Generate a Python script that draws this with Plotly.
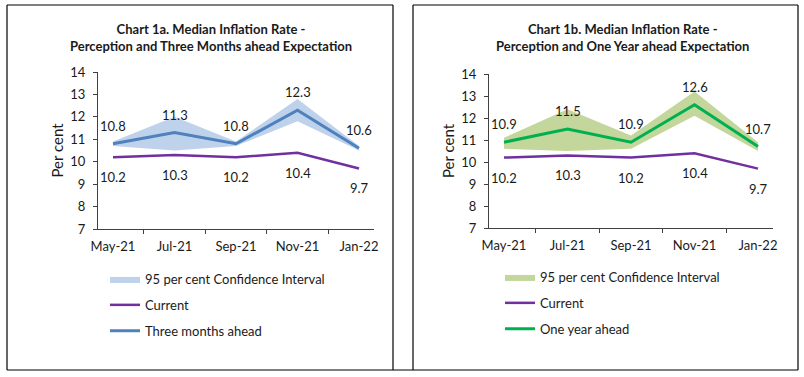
import plotly.graph_objects as go

months = ["May-21", "Jul-21", "Sep-21", "Nov-21", "Jan-22"]

current = [10.2, 10.3, 10.2, 10.4, 9.7]

three_month = [10.8, 11.3, 10.8, 12.3, 10.6]
three_upper = [10.9, 12.0, 10.9, 12.8, 10.7]
three_lower = [10.7, 10.5, 10.7, 11.8, 10.5]

one_year = [10.9, 11.5, 10.9, 12.6, 10.7]
one_upper = [11.1, 12.4, 11.2, 13.2, 10.9]
one_lower = [10.6, 10.5, 10.6, 12.1, 10.5]

titles = ["<b>Chart 1a. Median Inflation Rate -<br>Perception and Three Months ahead Expectation</b>",
          "<b>Chart 1b. Median Inflation Rate -<br>Perception and One Year ahead Expectation</b>"]

FONT = "Lato"
TXT = "#1a1a1a"
AX = "#404040"

fig = go.Figure()

panels = [
    dict(exp=three_month, up=three_upper, lo=three_lower, name="Three months ahead",
         band="#bfd2ec", line="#4f81bd", xa="x", ya="y", leg="legend"),
    dict(exp=one_year, up=one_upper, lo=one_lower, name="One year ahead",
         band="#c3d69b", line="#00b050", xa="x2", ya="y2", leg="legend2"),
]

for p in panels:
    fig.add_trace(go.Scatter(
        x=months + months[::-1], y=p["up"] + p["lo"][::-1],
        fill="toself", fillcolor=p["band"], line=dict(width=0, color=p["band"]),
        mode="lines", name="95 per cent Confidence Interval",
        xaxis=p["xa"], yaxis=p["ya"], legend=p["leg"], legendgroup=p["leg"] + "a",
        hoverinfo="skip"))
    fig.add_trace(go.Scatter(
        x=months, y=current, mode="lines", name="Current",
        line=dict(color="#7030a0", width=2.5),
        xaxis=p["xa"], yaxis=p["ya"], legend=p["leg"], legendgroup=p["leg"] + "b"))
    fig.add_trace(go.Scatter(
        x=months, y=p["exp"], mode="lines", name=p["name"],
        line=dict(color=p["line"], width=3),
        xaxis=p["xa"], yaxis=p["ya"], legend=p["leg"], legendgroup=p["leg"] + "c"))
    for m, v in zip(months, p["exp"]):
        fig.add_annotation(x=m, y=v, text=f"{v:.1f}", xref=p["xa"], yref=p["ya"],
                           showarrow=False, yshift=18, font=dict(family=FONT, size=13, color=TXT))
    for m, v in zip(months, current):
        fig.add_annotation(x=m, y=v, text=f"{v:.1f}", xref=p["xa"], yref=p["ya"],
                           showarrow=False, yshift=-20, font=dict(family=FONT, size=13, color=TXT))

W, H = 804, 377
def px(x): return x / W
def py(y): return 1 - y / H

axis_common = dict(
    showgrid=False, zeroline=False, showline=True, linecolor=AX, linewidth=1,
    ticks="outside", ticklen=4, tickcolor=AX,
    tickfont=dict(family=FONT, size=13, color=TXT),
)
ytitle = dict(text="Per cent", font=dict(family=FONT, size=15, color=TXT), standoff=3)

fig.update_layout(
    width=W, height=H, margin=dict(l=0, r=0, t=0, b=0, pad=0, autoexpand=False),
    paper_bgcolor="white", plot_bgcolor="white",
    font=dict(family=FONT, color=TXT),
    xaxis=dict(domain=[px(98), px(374)], anchor="y", type="category",
               tickson="boundaries", ticklabelstandoff=5, **axis_common),
    yaxis=dict(domain=[py(229), py(72)], anchor="x", range=[7, 14], dtick=1,
               ticklabelstandoff=5, title=ytitle, **axis_common),
    xaxis2=dict(domain=[px(489), px(773)], anchor="y2", type="category",
                tickson="boundaries", ticklabelstandoff=5, **axis_common),
    yaxis2=dict(domain=[py(228), py(74)], anchor="x2", range=[7, 14], dtick=1,
                ticklabelstandoff=5, title=ytitle, **axis_common),
    legend=dict(x=px(105), y=py(264), xanchor="left", yanchor="top",
                font=dict(family=FONT, size=13, color=TXT), tracegroupgap=6,
                itemwidth=30, bgcolor="rgba(0,0,0,0)"),
    legend2=dict(x=px(500), y=py(262), xanchor="left", yanchor="top",
                 font=dict(family=FONT, size=13, color=TXT), tracegroupgap=6,
                 itemwidth=30, bgcolor="rgba(0,0,0,0)"),
    showlegend=True,
)

fig.add_annotation(x=px(211), y=py(37), xref="paper", yref="paper", text=titles[0],
                   xanchor="center", yanchor="middle",
                   showarrow=False, font=dict(family=FONT, size=13, color=TXT), align="center")
fig.add_annotation(x=px(622), y=py(37), xref="paper", yref="paper", text=titles[1],
                   xanchor="center", yanchor="middle",
                   showarrow=False, font=dict(family=FONT, size=13, color=TXT), align="center")

# panel borders
line = dict(color="#000000", width=1.2)
fig.add_shape(type="line", xref="paper", yref="paper", x0=px(7), x1=px(7), y0=py(5), y1=py(370), line=line)
fig.add_shape(type="line", xref="paper", yref="paper", x0=px(7), x1=px(393), y0=py(5), y1=py(5), line=line)
fig.add_shape(type="line", xref="paper", yref="paper", x0=px(393), x1=px(393), y0=py(5), y1=py(370), line=line)
fig.add_shape(type="line", xref="paper", yref="paper", x0=px(413), x1=px(413), y0=py(5), y1=py(370), line=line)
fig.add_shape(type="line", xref="paper", yref="paper", x0=px(413), x1=px(798), y0=py(5), y1=py(5), line=line)
fig.add_shape(type="line", xref="paper", yref="paper", x0=px(798), x1=px(798), y0=py(5), y1=py(370), line=line)
fig.add_shape(type="line", xref="paper", yref="paper", x0=px(7), x1=px(798), y0=py(370), y1=py(370), line=line)

fig.write_html("out.html", config={"displayModeBar": False},
               post_script="document.body.style.margin='0px';document.body.style.padding='0px';")
